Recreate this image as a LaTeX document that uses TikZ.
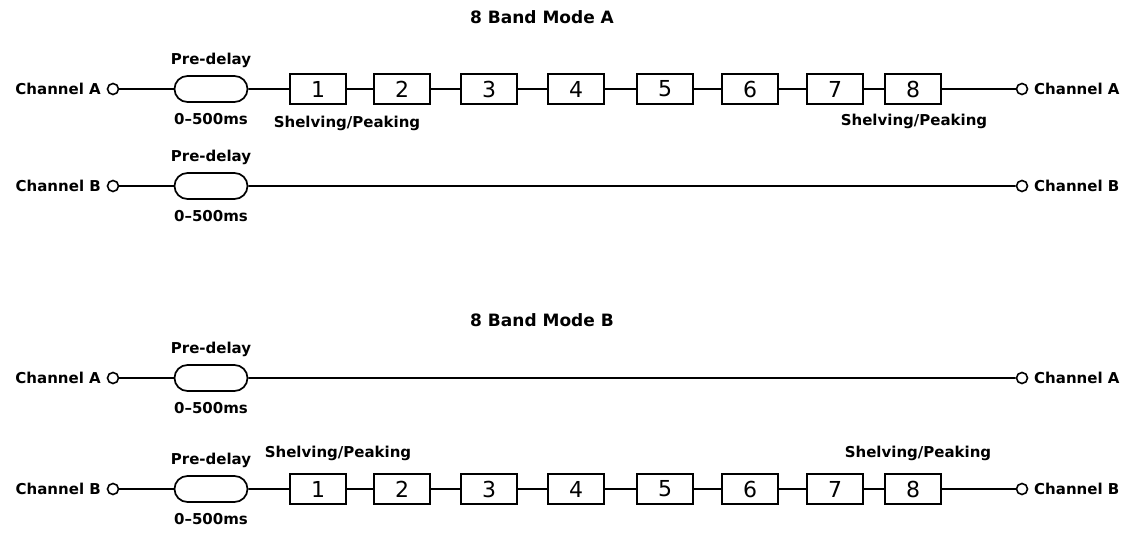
\documentclass[tikz,border=0pt]{standalone}
\usepackage{fontspec}
\setmainfont{DejaVu Sans}
\usetikzlibrary{shapes.misc}
\begin{document}
\begin{tikzpicture}[x=1pt,y=-1pt,
  wire/.style={line width=1.8pt},
  term/.style={circle,draw,line width=1.6pt,minimum size=11pt,inner sep=0pt,fill=white},
  delay/.style={rounded rectangle,draw,line width=1.7pt,minimum width=73pt,minimum height=26pt,inner sep=0pt},
  band/.style={rectangle,draw,line width=1.7pt,minimum width=56pt,minimum height=30pt,inner sep=0pt,font=\fontsize{22}{22}\selectfont},
  lbl/.style={font=\fontsize{15}{16}\selectfont\bfseries,inner sep=0pt},
  ttl/.style={font=\fontsize{17}{18}\selectfont\bfseries,inner sep=0pt}]
\useasboundingbox (0,0) rectangle (1125,534);

% titles
\node[ttl] (tA) at (542,17) {8 Band Mode A};
\node[ttl] (tB) at (542,320) {8 Band Mode B};

% generic row parts: terminals, delay, labels
\foreach \r/\y/\ch in {1/89/A, 2/186/B, 3/378/A, 4/489/B} {
  \node[term] (in\r) at (113,\y) {};
  \node[term] (out\r) at (1022,\y) {};
  \node[lbl,anchor=east] (lin\r) at (101,\y) {Channel \ch};
  \node[lbl,anchor=west] (lout\r) at (1034,\y) {Channel \ch};
  \node[delay] (d\r) at (211,\y) {};
  \node[lbl] (pd\r) at (211,\y-29) {Pre-delay};
  \node[lbl] (ms\r) at (211,\y+30) {0--500ms};
  \draw[wire] (in\r) -- (d\r);
}

% rows with bands (1 and 4)
\foreach \r/\y in {1/89, 4/489} {
  \foreach \i/\x in {1/318, 2/402, 3/489, 4/576, 5/665, 6/750, 7/835, 8/913} {
    \node[band] (b\r\i) at (\x,\y) {\i};
  }
  \draw[wire] (d\r) -- (b\r1);
  \foreach \i [evaluate=\i as \j using int(\i+1)] in {1,...,7} {
    \draw[wire] (b\r\i) -- (b\r\j);
  }
  \draw[wire] (b\r8) -- (out\r);
}

% rows without bands (2 and 3)
\draw[wire] (d2) -- (out2);
\draw[wire] (d3) -- (out3);

% shelving labels
\node[lbl] (sA1) at (347,123) {Shelving/Peaking};
\node[lbl] (sA8) at (914,121) {Shelving/Peaking};
\node[lbl] (sB1) at (338,453) {Shelving/Peaking};
\node[lbl] (sB8) at (918,453) {Shelving/Peaking};
\end{tikzpicture}
\end{document}
